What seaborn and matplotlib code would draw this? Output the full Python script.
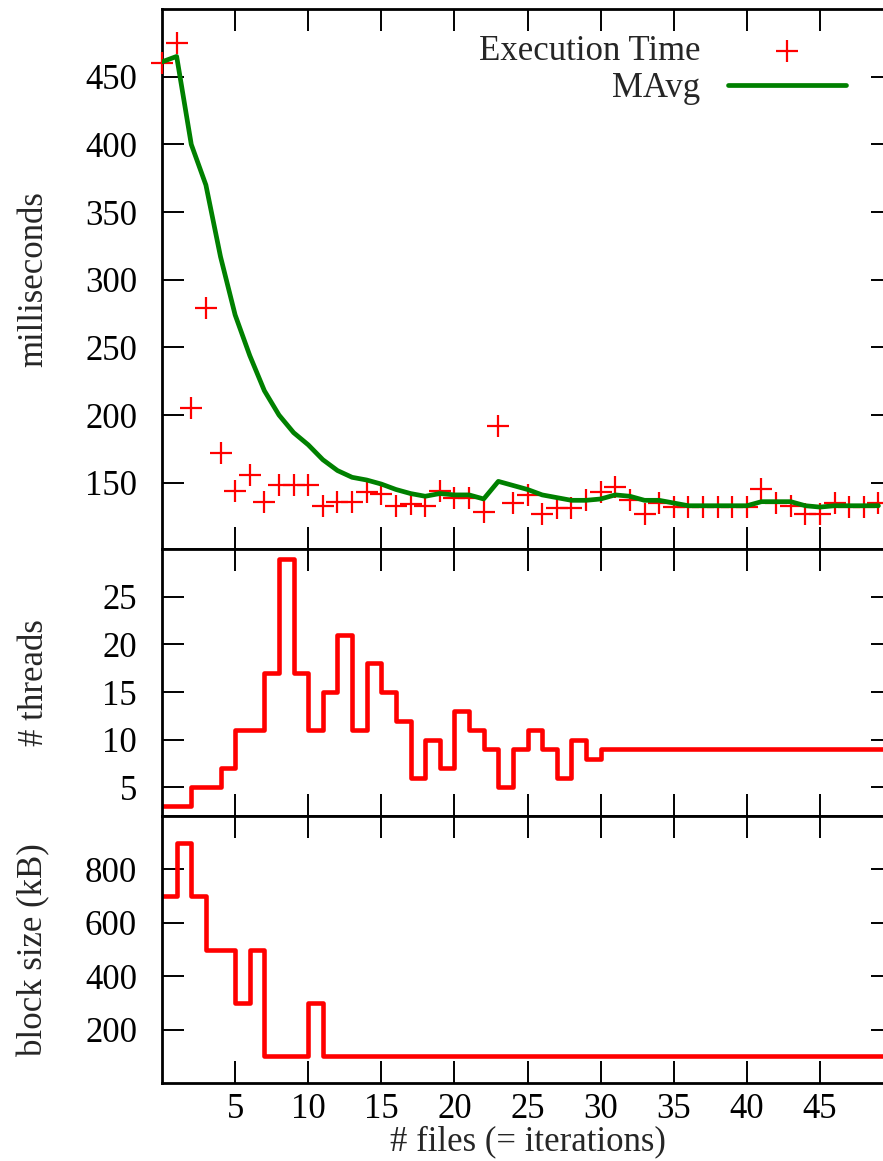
import numpy as np
import matplotlib
matplotlib.use('Agg')
import matplotlib.pyplot as plt
import seaborn as sns

# ---- data ----
files = list(range(0, 50))
exec_time = [460, 475, 205, 279, 172, 144, 156, 136, 148, 148,
             148, 133, 136, 136, 143, 142, 133, 134, 133, 144,
             139, 139, 128, 192, 135, 141, 127, 131, 131, 137,
             143, 147, 137, 127, 135, 132, 132, 132, 132, 132,
             132, 145, 135, 133, 127, 127, 135, 132, 132, 135]
mavg = [461, 465, 400, 370, 317, 274, 244, 218, 200, 187,
        178, 167, 159, 154, 152, 149, 145, 142, 140, 142,
        141, 141, 138, 151, 148, 145, 141, 139, 137, 137,
        138, 141, 140, 137, 137, 135, 133, 133, 133, 133,
        133, 136, 136, 136, 133, 132, 133, 133, 133, 133]

steps_x = list(range(0, 51))
threads = [3, 3, 5, 5, 7, 11, 11, 17, 29, 17,
           11, 15, 21, 11, 18, 15, 12, 6, 10, 7,
           13, 11, 9, 5, 9, 11, 9, 6, 10, 8,
           9, 9, 9, 9, 9, 9, 9, 9, 9, 9,
           9, 9, 9, 9, 9, 9, 9, 9, 9, 9, 9]
block_kb = [700, 900, 700, 500, 500, 300, 500, 100, 100, 100,
            300, 100, 100, 100, 100, 100, 100, 100, 100, 100,
            100, 100, 100, 100, 100, 100, 100, 100, 100, 100,
            100, 100, 100, 100, 100, 100, 100, 100, 100, 100,
            100, 100, 100, 100, 100, 100, 100, 100, 100, 100, 100]

xticks = [5, 10, 15, 20, 25, 30, 35, 40, 45]
ms_ticks = [150, 200, 250, 300, 350, 400, 450]
thread_ticks = [5, 10, 15, 20, 25]
block_ticks = [200, 400, 600, 800]

sns.set_theme(style='ticks')
plt.rcParams['font.family'] = ['Liberation Serif', 'DejaVu Serif']
FS = 25

fig = plt.figure(figsize=(8.83, 11.61), dpi=100)
left, width = 0.1835, 0.8279
ax1 = fig.add_axes([left, 0.5271, width, 0.4651])
ax2 = fig.add_axes([left, 0.2972, width, 0.2299])
ax3 = fig.add_axes([left, 0.0672, width, 0.2299])

RED = '#ff0000'
GREEN = '#008000'

# ---- top: execution time + moving average ----
sns.scatterplot(x=files, y=exec_time, marker='+', s=230, color=RED,
                linewidth=1.6, label='Execution Time', clip_on=False,
                zorder=3, ax=ax1)
sns.lineplot(x=files, y=mavg, color=GREEN, linewidth=3.4, label='MAvg',
             zorder=4, ax=ax1)
ax1.set_ylim(101, 500)
ax1.set_yticks(ms_ticks)
ax1.set_ylabel('milliseconds', fontsize=FS, va='center')

# ---- middle: threads ----
sns.lineplot(x=steps_x, y=threads, drawstyle='steps-post', color=RED,
             linewidth=3.3, ax=ax2)
ax2.set_ylim(2, 30)
ax2.set_yticks(thread_ticks)
ax2.set_ylabel('# threads', fontsize=FS, va='center')

# ---- bottom: block size ----
sns.lineplot(x=steps_x, y=block_kb, drawstyle='steps-post', color=RED,
             linewidth=3.3, ax=ax3)
ax3.set_ylim(0, 1000)
ax3.set_yticks(block_ticks)
ax3.set_ylabel('block size (kB)', fontsize=FS, va='center')
ax3.set_xlabel('# files (= iterations)', fontsize=FS, labelpad=0)

for ax in (ax1, ax2, ax3):
    ax.set_xlim(0, 50)
    ax.set_xticks(xticks)
    ax.tick_params(axis='both', direction='in', length=16, width=1.4,
                   top=True, right=True, colors='black', labelsize=FS)
    ax.tick_params(axis='y', pad=18)
    ax.tick_params(axis='x', pad=7)
    ax.yaxis.set_label_coords(-0.175, 0.5)
    for sp in ax.spines.values():
        sp.set_linewidth(2.0)
        sp.set_color('black')
    ax.grid(False)
for ax in (ax1, ax2):
    ax.tick_params(axis='x', labelbottom=False)

ax1.legend(loc='upper right', bbox_to_anchor=(0.9357, 0.952),
           frameon=False, fontsize=FS, markerfirst=False,
           handlelength=3.4, handletextpad=0.8, labelspacing=0.12,
           borderpad=0, borderaxespad=0)

fig.savefig('out.png', dpi=100)
